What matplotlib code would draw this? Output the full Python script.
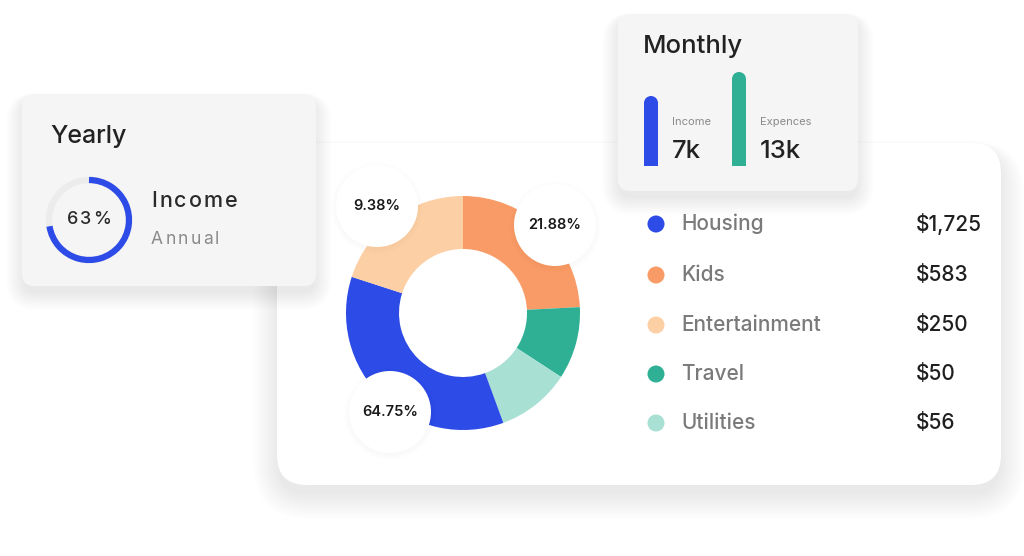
import matplotlib
matplotlib.use('Agg')
import matplotlib.pyplot as plt
from matplotlib.patches import FancyBboxPatch, Circle, Arc

plt.rcParams['font.family'] = ['Inter', 'DejaVu Sans']

# ---- data ----
categories = ['Housing', 'Kids', 'Entertainment', 'Travel', 'Utilities']
amounts = ['$1,725', '$583', '$250', '$50', '$56']
colors = ['#2d4be6', '#f99b66', '#fdcfa4', '#2fb094', '#a8e0d4']
# share of the ring each slice takes, as seen
slice_share = [35.6, 24.2, 20.0, 10.0, 10.2]
pie_order = [1, 3, 4, 0, 2]          # clockwise from 12 o'clock
bubble_labels = ['9.38%', '21.88%', '64.75%']

yearly_pct_label = '63%'
yearly_arc_share = 0.725
monthly_names = ['Income', 'Expences']
monthly_values = ['7k', '13k']
monthly_bar_height = [70, 94]
monthly_colors = ['#2d4be6', '#2fb094']

W, H = 1024, 556
fig = plt.figure(figsize=(W / 100, H / 100), dpi=100)
ax = fig.add_axes([0, 0, 1, 1])
ax.set_xlim(0, W)
ax.set_ylim(H, 0)
ax.axis('off')
renderer = fig.canvas.get_renderer()


def card(x0, y0, x1, y1, r, fc, z, shadow=1.0, drop=10, spread=22):
    # soft shadow: stacked translucent boxes growing outward
    n = 22
    for i in range(n):
        s = spread * (i + 1) / n
        p = FancyBboxPatch((x0 - s + 2, y0 + drop - s * 0.4), x1 - x0 + 2 * s - 4, y1 - y0 + s * 1.4,
                           boxstyle=f'round,pad=0,rounding_size={r + s}', fc='black', ec='none',
                           alpha=0.0045 * shadow, zorder=z - 0.5)
        ax.add_patch(p)
    ax.add_patch(FancyBboxPatch((x0, y0), x1 - x0, y1 - y0,
                                boxstyle=f'round,pad=0,rounding_size={r}', fc=fc, ec='none', zorder=z))


def tracked(x, y, s, track, ha='left', **kw):
    # draw text with extra letter spacing (px)
    widths = []
    for ch in s:
        t = ax.text(0, 0, ch, **kw)
        widths.append(t.get_window_extent(renderer).width)
        t.remove()
    total = sum(widths) + track * (len(s) - 1)
    cx = x - total / 2 if ha == 'center' else x
    for ch, wd in zip(s, widths):
        ax.text(cx, y, ch, ha='left', **kw)
        cx += wd + track


# main card
card(277, 143, 1001, 485, 30, 'white', 1, shadow=1.0, drop=8, spread=26)

# donut
sizes = [slice_share[i] for i in pie_order]
cols = [colors[i] for i in pie_order]
ax.pie(sizes, colors=cols, center=(463, 313), radius=117, startangle=-90, counterclock=True,
       wedgeprops=dict(width=53, edgecolor='none', zorder=2))
ax.set_xlim(0, W)
ax.set_ylim(H, 0)
ax.set_aspect('auto')

# label bubbles
for (cx, cy), lab in zip([(377, 206), (555, 225), (390, 412)], bubble_labels):
    for i in range(6):
        ax.add_patch(Circle((cx, cy + 2), 41 + i, fc='black', ec='none', alpha=0.0025, zorder=2.5))
    ax.add_patch(Circle((cx, cy), 41, fc='white', ec='none', zorder=3))
    ax.text(cx, cy, lab, ha='center', va='center', fontsize=10.5, fontweight='semibold',
            color='#1a1a1a', zorder=4)

# legend
rows_y = [224, 275, 325, 374, 423]
for y, name, amt, c in zip(rows_y, categories, amounts, colors):
    ax.add_patch(Circle((656, y), 8.5, fc=c, ec='none', zorder=3))
    ax.text(681, y, name, ha='left', va='center', fontsize=15, fontweight='medium',
            color='#7a7a7a', zorder=3)
    ax.text(916, y, amt, ha='left', va='center', fontsize=15, fontweight='medium',
            color='#1f1f1f', zorder=3)

# yearly card
card(22, 94, 316, 286, 12, '#f5f5f5', 5, shadow=0.8, drop=6, spread=18)
ax.text(50, 137, 'Yearly', ha='left', va='center', fontsize=18, fontweight='medium',
        color='#222222', zorder=6)
ax.add_patch(Circle((89, 220), 40, fc='none', ec='#ececec', lw=4.5, zorder=6))
ax.add_patch(Arc((89, 220), 80, 80, theta1=-90, theta2=-90 + 360 * yearly_arc_share,
                 ec='#2d4be6', lw=4.5, zorder=7))
tracked(89, 220, yearly_pct_label, 1.8, ha='center', va='center', fontsize=13,
        fontweight='medium', color='#2a2a2a', zorder=7)
tracked(151, 201, 'Income', 2.2, va='center', fontsize=15.5, fontweight='medium',
        color='#2a2a2a', zorder=7)
tracked(151, 240, 'Annual', 2.2, va='center', fontsize=12.5, color='#8a8a8a', zorder=7)

# monthly card
card(618, 14, 858, 191, 12, '#f5f5f5', 5, shadow=0.8, drop=6, spread=18)
ax.text(643, 47, 'Monthly', ha='left', va='center', fontsize=18.5, fontweight='medium',
        color='#222222', zorder=6)
base = 166
w = 14
for bx, tx, h, c, name, val in zip([651, 739], [672, 760], monthly_bar_height, monthly_colors,
                                   monthly_names, monthly_values):
    ax.bar(bx, -(h - w / 2), bottom=base, width=w, color=c, zorder=7)
    ax.add_patch(Circle((bx, base - h + w / 2), w / 2, fc=c, ec='none', zorder=7))
    ax.text(tx, 122, name, ha='left', va='center', fontsize=8, color='#8a8a8a', zorder=7)
    ax.text(tx, 151, val, ha='left', va='center', fontsize=18.5, fontweight='medium',
            color='#222222', zorder=7)

fig.savefig('out.png', dpi=100, facecolor='white')
